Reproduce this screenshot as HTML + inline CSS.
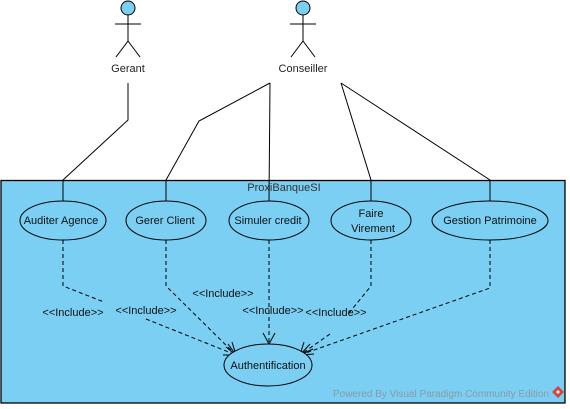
<!DOCTYPE html>
<html><head><style>html,body{margin:0;padding:0;background:#fff;width:570px;height:409px;overflow:hidden}</style></head>
<body>
<svg width="570" height="409" viewBox="0 0 570 409" xmlns="http://www.w3.org/2000/svg" font-family="Liberation Sans, sans-serif">
<rect x="1" y="180.5" width="564" height="222.5" fill="#7ACFF2" stroke="#000" stroke-width="1.3"/>
<text x="284" y="191" font-size="11" text-anchor="middle" fill="#333">ProxiBanqueSI</text>
<g stroke="#000" stroke-width="1" fill="none">
<circle cx="128" cy="8" r="7" fill="#7ACFF2"/>
<line x1="128" y1="15" x2="128" y2="41"/><line x1="115" y1="24" x2="141" y2="24"/>
<line x1="128" y1="41" x2="116" y2="57"/><line x1="128" y1="41" x2="140" y2="57"/>
<circle cx="303" cy="8" r="7" fill="#7ACFF2"/>
<line x1="303" y1="15" x2="303" y2="41"/><line x1="290" y1="24" x2="316" y2="24"/>
<line x1="303" y1="41" x2="291" y2="57"/><line x1="303" y1="41" x2="315" y2="57"/>
<polyline points="128,83 128,120 63,180 63,201"/>
<polyline points="270,83 199,121 166,180 166,201"/>
<polyline points="270,83 269,201"/>
<polyline points="341,83 371,180 371,201"/>
<polyline points="341,83 490,180 490,201"/>
</g>
<text x="128" y="72" font-size="11" text-anchor="middle" fill="#222">Gerant</text>
<text x="303" y="72" font-size="11" text-anchor="middle" fill="#222">Conseiller</text>
<g stroke="#000" stroke-width="1" fill="none" stroke-dasharray="4,3">
<polyline points="63,240 63,286 104,302"/>
<polyline points="146,319 236,355"/>
<polyline points="166,240 166,286 236,355"/>
<polyline points="269,240 269,344"/>
<polyline points="371,240 371,286 349,313"/>
<polyline points="330,334 300,355"/>
<polyline points="490,240 490,288 300,355"/>
</g>
<g stroke="#000" stroke-width="1" fill="none">
<polyline points="226,347 236,355 223,355"/>
<polyline points="228,344 236,355 232,342"/>
<polyline points="263,333 269,344 275,333"/>
<polyline points="304,342 300,355 310,344"/>
<polyline points="313,349 300,355 314,354"/>
</g>
<g stroke="#000" stroke-width="1" fill="#7ACFF2">
<ellipse cx="63" cy="220.5" rx="43" ry="19.5"/>
<ellipse cx="166" cy="220.5" rx="40" ry="19.5"/>
<ellipse cx="269" cy="220.5" rx="40" ry="19.5"/>
<ellipse cx="371" cy="220.5" rx="40" ry="19.5"/>
<ellipse cx="490" cy="220.5" rx="58" ry="19.5"/>
<ellipse cx="268" cy="365" rx="44" ry="21"/>
</g>
<g font-size="11" text-anchor="middle" fill="#111">
<text x="61" y="224">Auditer Agence</text>
<text x="165" y="224">Gerer Client</text>
<text x="268" y="224">Simuler credit</text>
<text x="371" y="217">Faire</text>
<text x="373" y="232">Virement</text>
<text x="490" y="224">Gestion Patrimoine</text>
<text x="268" y="369">Authentification</text>
</g>
<g font-size="11" fill="#111" text-anchor="middle">
<text x="73" y="316">&lt;&lt;Include&gt;&gt;</text>
<text x="146" y="314">&lt;&lt;Include&gt;&gt;</text>
<text x="223" y="297">&lt;&lt;Include&gt;&gt;</text>
<text x="273" y="314">&lt;&lt;Include&gt;&gt;</text>
<text x="336" y="316">&lt;&lt;Include&gt;&gt;</text>
</g>
<text x="549" y="397" font-size="10" text-anchor="end" fill="#8a9aa8">Powered By  Visual Paradigm Community Edition</text>
<path d="M558,386 l6,6 l-6,6 l-6,-6z" fill="#d8443c"/>
<path d="M558,390 l2,2 l-2,2 l-2,-2z" fill="#fff"/>
</svg>
</body></html>
